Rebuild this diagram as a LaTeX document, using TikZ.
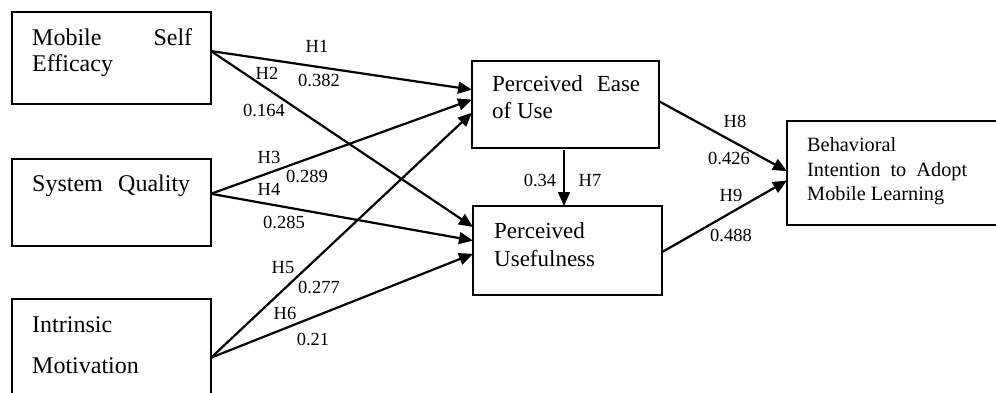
\documentclass[tikz,border=0pt]{standalone}
\usepackage{fontspec}
\setmainfont{Liberation Serif}
\usetikzlibrary{arrows.meta,calc}
\begin{document}
\begin{tikzpicture}[x=1pt,y=-1pt,
  box/.style={draw, line width=1.8pt, rectangle, inner sep=0pt, outer sep=0pt},
  txt/.style={anchor=base west, inner sep=0pt, font=\fontsize{24}{27}\selectfont},
  txtm/.style={anchor=base west, inner sep=0pt, font=\fontsize{23}{27}\selectfont},
  txts/.style={anchor=base west, inner sep=0pt, font=\fontsize{20.3}{24}\selectfont},
  lab/.style={inner sep=0pt, font=\fontsize{18.5}{20}\selectfont},
  arr/.style={line width=2.2pt, -{Triangle[length=14pt,width=12pt]}}
]
\useasboundingbox (0,0) rectangle (996,392);
% boxes
\node[box, minimum width=199pt, minimum height=92pt] (mse) at (111.5,58) {};
\node[box, minimum width=199pt, minimum height=87pt] (sq) at (111.5,202.5) {};
\node[box, minimum width=199pt, minimum height=100pt] (im) at (111.5,349) {};
\node[box, minimum width=187pt, minimum height=87pt] (peou) at (565.5,104.5) {};
\node[box, minimum width=189pt, minimum height=89pt] (pu) at (567.5,250.5) {};
\node[box, minimum width=215pt, minimum height=104pt] (bi) at (894.5,173) {};
% box texts
\node[txt] (mset1) at (32,45) {\makebox[160pt]{Mobile\hfill Self}};
\node[txt] (mset2) at (32,71) {Efficacy};
\node[txt] (sqt) at (32,191) {\makebox[158pt]{System\hfill Quality}};
\node[txt] (imt1) at (32,332) {Intrinsic};
\node[txt] (imt2) at (32,373) {Motivation};
\node[txtm] (peout1) at (492,91) {\makebox[148pt]{Perceived\hfill Ease}};
\node[txtm] (peout2) at (492,118) {of Use};
\node[txtm] (put1) at (494,238) {Perceived};
\node[txtm] (put2) at (494,266) {Usefulness};
\node[txts] (bit1) at (807,151) {Behavioral};
\node[txts] (bit2) at (807,176) {\makebox[160pt]{Intention\hfill to\hfill Adopt}};
\node[txts] (bit3) at (807,200) {Mobile Learning};
% connectors
\draw[arr] (mse.4.6) -- (peou.171.2);
\draw[arr] (mse.4.6) -- (pu.166);
\draw[arr] (sq.5.45) -- (peou.177.9);
\draw[arr] (sq.5.45) -- (pu.174.3);
\draw[arr] (im.-5.2) -- (peou.185.2);
\draw[arr] (im.-5.2) -- (pu.182.1);
\draw[arr] ($(peou.south)+(-1.5,2)$) -- ($(peou.south |- pu.north)+(-1.5,0)$);
\draw[arr] (peou.2.76) -- (bi.179.5);
\draw[arr] (pu.-1.5) -- (bi.184.8);
% labels
\node[lab] (l1) at (317,46) {H1};
\node[lab] (l1v) at (319,80) {0.382};
\node[lab] (l2) at (267,73) {H2};
\node[lab] (l2v) at (264,110) {0.164};
\node[lab] (l3) at (269,157) {H3};
\node[lab] (l3v) at (307,176) {0.289};
\node[lab] (l4) at (269,189) {H4};
\node[lab] (l4v) at (284,222) {0.285};
\node[lab] (l5) at (283,268) {H5};
\node[lab] (l5v) at (319,287) {0.277};
\node[lab] (l6) at (285,313) {H6};
\node[lab] (l6v) at (313,339) {0.21};
\node[lab] (l7v) at (540,180) {0.34};
\node[lab] (l7) at (590,180) {H7};
\node[lab] (l8) at (735,121) {H8};
\node[lab] (l8v) at (729,158) {0.426};
\node[lab] (l9) at (731,195) {H9};
\node[lab] (l9v) at (731,235) {0.488};
\end{tikzpicture}
\end{document}
